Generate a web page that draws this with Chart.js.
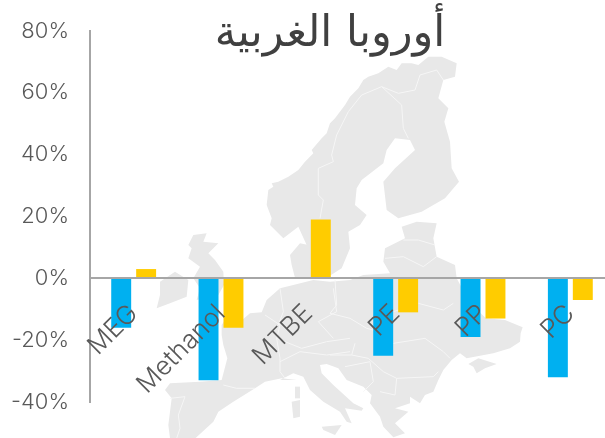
<!DOCTYPE html>
<html lang="ar"><head><meta charset="utf-8">
<style>html,body{margin:0;padding:0;background:#fff;width:605px;height:438px;overflow:hidden}canvas{display:block}#w{width:660px;height:438px;position:relative}</style>
<script src="https://cdn.jsdelivr.net/npm/chart.js@4"></script></head><body>
<div id="w"><canvas id="c"></canvas></div>
<script>
const chartTitle = 'أوروبا الغربية';
const categories = ['MEG','Methanol','MTBE','PE','PP','PC'];
const seriesBlue = [-16,-33,null,-25,-19,-32];
const seriesYellow = [3,-16,19,-11,-13,-7];
const yTickValues = [80,60,40,20,0,-20,-40];

// Decorative background map, traced as [originX, originY, [x,y,...] at 3x]
const mapShapes = [
 [[255,55,[40,405,55,395,50,385,70,380,100,365,130,345,150,320,175,295,170,285,200,250,215,235,225,205,240,190,270,150,285,125,310,100,325,75,340,65,370,55,400,35,425,45,440,25,470,25,490,30,520,5,560,5,605,25,600,65,565,75,550,130,580,160,568,200,585,260,590,340,612,380,570,430,500,470,430,490,395,465,385,380,420,340,480,285,465,255,420,250,395,285,385,325,320,375,305,400,300,450,335,480,315,510,280,530,285,580,260,640,215,668,170,668,165,640,155,570,130,515,85,550,45,510,50,490,35,450]]],
 [[255,55,[105,600,135,565,160,570,170,668,120,668,110,630]]],
 [[150,225,[130,30,170,25,160,50,205,55,175,85,195,105,220,140,222,180,205,210,140,225,150,190,130,160,150,125,115,100,125,70,115,60]]],
 [[150,225,[30,170,75,140,115,165,110,215,60,235,20,250,30,210]]],
 [[280,340,[125,260,185,255,165,285,130,270]]],
 [[280,340,[45,140,60,140,60,175,45,175]]],
 [[280,340,[35,185,60,180,60,230,40,235]]],
 [[410,340,[175,72,205,55,260,72,225,85,200,100,190,80]]],
 [
  [150,225,[600,165,540,170,490,165,430,180,390,190,350,225,335,262,300,265,270,290,225,285,215,300,215,330,220,360,232,400,215,465,150,470,60,475,45,495,65,520,55,600,60,640,125,650,190,590,205,560,250,530,315,490,345,470,395,460,440,465]],
  [280,340,[0,120,40,100,70,110,90,150,130,185,180,215,200,245,215,250,195,205,245,212,250,205,220,190,160,135,125,100,120,75,140,72,175,85,200,120,250,140,275,165,270,190,300,230,310,260,340,292,375,280,345,250,385,215,345,205,390,190]],
  [410,340,[0,170,30,190,45,165,70,155,85,120,100,90,125,60,150,40,170,55,250,40,300,25,330,5]],
  [430,270,[272,190,278,172,225,150,168,145,120,100,80,25]],
  [330,215,[375,150,320,125,310,70,320,25,260,20,215,35,225,70,165,100,160,140,180,175,100,180]]
 ]
];
const mapBorders = [
 [255,55,[380,95,320,120,280,170,245,240,230,300,235,320,190,340,190,420,205,435,195,490]],
 [255,55,[380,95,440,150,445,220,460,250]],
 [255,55,[380,95,430,115,480,105,495,60,545,45,565,75]],
 [255,55,[445,555,490,555,540,570]],
 [330,215,[165,130,220,125,280,155,320,125]],
 [330,215,[15,195,20,270,0,295,60,310,110,340,130,345,190,385,285,370,340,410,360,430]],
 [330,215,[190,290,265,265,340,285,370,265]],
 [330,215,[200,490,310,485,325,470]],
 [330,215,[75,385,65,420,115,430,160,470,200,490,195,540,150,530]],
 [330,215,[0,420,65,420]],
 [330,215,[45,455,120,440,130,500,100,530]],
 [150,225,[220,480,260,490,315,490]],
 [150,225,[60,520,105,515,85,570,90,610,80,640]],
 [150,225,[345,270,390,300,380,340,390,400,390,440,405,460]],
 [150,225,[380,340,455,370,530,350,600,340]],
 [150,225,[550,190,560,260,505,290,550,340]],
 [150,225,[390,410,450,380,530,390,600,380]],
 [150,225,[390,190,400,260,385,300]]
];
function tracePts(ctx, seg, first){
 const [ox,oy,p]=seg;
 for(let i=0;i<p.length;i+=2){
  const x=ox+p[i]/3,y=oy+p[i+1]/3;
  if(first&&i===0)ctx.moveTo(x,y);else ctx.lineTo(x,y);
 }
}
const mapBackground = {
 id:'mapBackground',
 beforeDraw(chart){
  const ctx=chart.ctx;
  ctx.save();
  ctx.fillStyle='#e8e8e8';
  mapShapes.forEach(shape=>{
   ctx.beginPath();
   shape.forEach((seg,i)=>tracePts(ctx,seg,i===0));
   ctx.closePath();ctx.fill();
  });
  ctx.strokeStyle='#f6f6f6';ctx.lineWidth=1;
  mapBorders.forEach(seg=>{ctx.beginPath();tracePts(ctx,seg,true);ctx.stroke();});
  ctx.restore();
 }
};
const tickFont={family:'Inter, Lato, sans-serif',size:22,weight:'300'};
const catFont={family:'Inter, Lato, sans-serif',size:26,weight:'300'};
new Chart(document.getElementById('c'),{
 type:'bar',
 plugins:[mapBackground],
 data:{labels:categories,datasets:[
  {label:'A',data:seriesBlue,backgroundColor:'#00b0f0'},
  {label:'B',data:seriesYellow,backgroundColor:'#ffcc00'}
 ]},
 options:{
  responsive:true,maintainAspectRatio:false,animation:false,
  datasets:{bar:{categoryPercentage:0.571,barPercentage:0.8}},
  layout:{padding:{top:0,right:0,bottom:36,left:0}},
  plugins:{
   legend:{display:false},tooltip:{enabled:false},
   title:{display:true,text:chartTitle,color:'#404040',
    font:{family:'"DejaVu Sans"',size:43,weight:'normal'},
    padding:{top:9,bottom:-29.6}}
  },
  scales:{
   x:{position:{y:0},afterFit(s){s.paddingTop=0;s.paddingBottom=0;},grid:{display:false,drawTicks:false},
    border:{color:'#a6a6a6',width:2,z:1},
    ticks:{z:1,color:'#595959',font:catFont,maxRotation:45,minRotation:45,autoSkip:false,padding:20}},
   y:{min:-40,max:80,
    afterFit(s){s.width=90;s.paddingTop=0;s.paddingBottom=0;},
    grid:{display:false,drawTicks:false},
    border:{color:'#a6a6a6',width:2},
    afterBuildTicks(s){s.ticks=yTickValues.map(v=>({value:v}));},
    ticks:{color:'#595959',font:tickFont,padding:21,callback:v=>v+'%'}},
   rightGap:{position:'right',afterFit(s){s.width=46;s.paddingTop=0;s.paddingBottom=0;},
    grid:{display:false,drawTicks:false},border:{display:false},ticks:{display:false}}
  }
 }
});
</script></body></html>
